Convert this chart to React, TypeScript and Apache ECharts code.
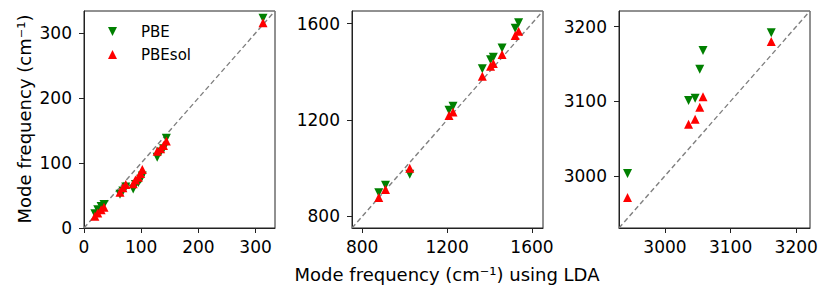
import React, { useEffect, useRef } from "react";
import * as echarts from "echarts";

// Panel 1 (low-frequency modes)
const lda1 = [19, 24, 30, 35, 63, 68, 73, 86, 90, 95, 99, 102, 128, 134, 139, 144, 313];
const pbe1 = [22, 28, 33, 36, 52, 57, 63, 60, 67, 70, 75, 80, 109, 117, 122, 138, 323];
const pbesol1 = [18, 23, 28, 32, 55, 62, 67, 68, 74, 78, 84, 90, 118, 122, 127, 134, 316];

// Panel 2 (mid-frequency modes)
const lda2 = [878, 910, 1024, 1209, 1228, 1366, 1405, 1418, 1459, 1521, 1537];
const pbe2 = [898, 929, 975, 1240, 1257, 1413, 1450, 1460, 1499, 1580, 1603];
const pbesol2 = [878, 912, 1000, 1219, 1233, 1381, 1423, 1434, 1472, 1550, 1568];

// Panel 3 (high-frequency modes)
const lda3 = [2943, 3036, 3046, 3053, 3058, 3162];
const pbe3 = [3003, 3101, 3104, 3143, 3168, 3192];
const pbesol3 = [2971, 3069, 3076, 3092, 3106, 3180];

// Axis limits and ticks
const limits = [
  [0, 334],
  [752, 1652],
  [2930, 3221],
];
const ticks = [
  [0, 100, 200, 300],
  [800, 1200, 1600],
  [3000, 3100, 3200],
];

const seriesNames = ["PBE", "PBEsol"];
const xLabel = "Mode frequency (cm\u207B\u00B9) using LDA";
const yLabel = "Mode frequency (cm\u207B\u00B9)";

const FONT = "DejaVu Sans";
const DOWN = "path://M0,0L2,0L1,2Z";
const UP = "path://M1,0L2,2L0,2Z";

export default function App() {
  const ref = useRef<HTMLDivElement>(null);

  useEffect(() => {
    if (!ref.current) return;
    const chart = echarts.init(ref.current, null, { renderer: "svg" });

    const panels = [
      { x: lda1, pbe: pbe1, pbesol: pbesol1 },
      { x: lda2, pbe: pbe2, pbesol: pbesol2 },
      { x: lda3, pbe: pbe3, pbesol: pbesol3 },
    ];
    const lefts = [84, 352, 619];

    const grid = lefts.map((l) => ({
      left: l,
      top: 11,
      width: 191,
      height: 217,
      show: true,
      borderColor: "#222",
      borderWidth: 1,
      backgroundColor: "transparent",
    }));

    const mkAxis = (i: number, isX: boolean) => ({
      type: "value",
      gridIndex: i,
      min: limits[i][0],
      max: limits[i][1],
      axisLine: { show: true, lineStyle: { color: "#222", width: 1 } },
      axisTick: {
        show: true,
        inside: false,
        length: 5,
        customValues: ticks[i],
        lineStyle: { color: "#222", width: 1 },
      },
      axisLabel: {
        customValues: ticks[i],
        formatter: (v: number) => String(v),
        margin: isX ? 10 : 12,
        fontSize: 17,
        fontFamily: FONT,
        color: "#000",
      },
      splitLine: { show: false },
    });

    const series: any[] = [];
    panels.forEach((p, i) => {
      series.push({
        type: "line",
        xAxisIndex: i,
        yAxisIndex: i,
        data: [
          [limits[i][0], limits[i][0]],
          [limits[i][1], limits[i][1]],
        ],
        symbol: "none",
        silent: true,
        lineStyle: { color: "#808080", width: 1.4, type: [5, 3] },
        z: 1,
      });
      series.push({
        type: "scatter",
        name: seriesNames[0],
        xAxisIndex: i,
        yAxisIndex: i,
        data: p.x.map((v, k) => [v, p.pbe[k]]),
        symbol: DOWN,
        symbolSize: 9,
        itemStyle: { color: "#008000", opacity: 1 },
        z: 2,
      });
      series.push({
        type: "scatter",
        name: seriesNames[1],
        xAxisIndex: i,
        yAxisIndex: i,
        data: p.x.map((v, k) => [v, p.pbesol[k]]),
        symbol: UP,
        symbolSize: 9,
        itemStyle: { color: "#ff0000", opacity: 1 },
        z: 3,
      });
    });

    chart.setOption({
      animation: false,
      backgroundColor: "#fff",
      grid,
      xAxis: [0, 1, 2].map((i) => mkAxis(i, true)),
      yAxis: [0, 1, 2].map((i) => mkAxis(i, false)),
      legend: {
        data: seriesNames,
        orient: "vertical",
        left: 103,
        top: 19,
        itemWidth: 9,
        itemHeight: 9,
        itemGap: 8,
        textStyle: {
          fontSize: 15,
          fontFamily: FONT,
          color: "#000",
          lineHeight: 15,
          padding: [0, 0, 0, 19],
        },
      },
      graphic: [
        {
          type: "text",
          x: 447,
          y: 274,
          style: {
            text: xLabel,
            fontSize: 18,
            fontFamily: FONT,
            fill: "#000",
            align: "center",
            verticalAlign: "middle",
          },
        },
        {
          type: "text",
          x: 24,
          y: 119,
          rotation: Math.PI / 2,
          style: {
            text: yLabel,
            fontSize: 18,
            fontFamily: FONT,
            fill: "#000",
            align: "center",
            verticalAlign: "middle",
          },
        },
      ],
      series,
    });

    return () => chart.dispose();
  }, []);

  return (
    <div
      ref={ref}
      style={{ position: "fixed", left: 0, top: 0, width: 831, height: 295 }}
    />
  );
}
